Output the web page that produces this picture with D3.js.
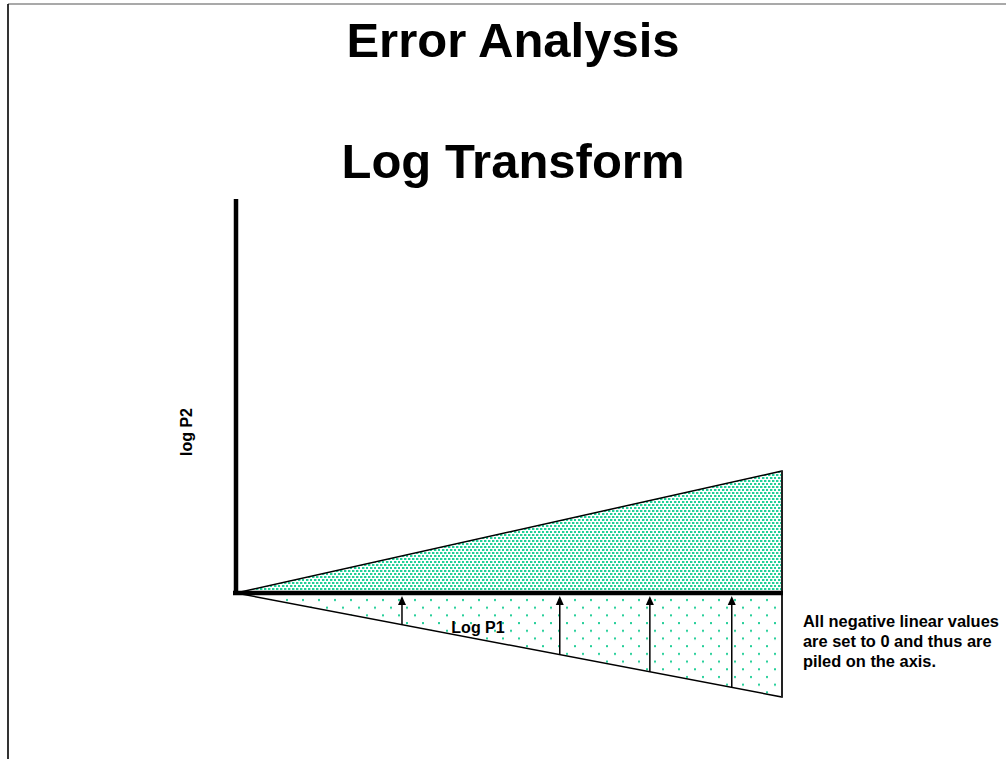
<!DOCTYPE html>
<html>
<head>
<meta charset="utf-8">
<script src="https://cdn.jsdelivr.net/npm/d3@7"></script>
<style>
  body { margin: 0; background: #fff; }
  svg { display: block; font-family: "Liberation Sans", Arial, sans-serif; }
</style>
</head>
<body>
<div id="chart"></div>
<script>
const width = 1006;
const height = 759;

// Chart content (data units: log P1 along x, log P2 along y)
const titleLines = ['Error Analysis', 'Log Transform'];
const xDomain = [0, 10];
const yAxisTop = 7.2;
const upperEdge = [[0, 0], [10, 2.23], [10, 0]];
const lowerEdge = [[0, 0], [10, -1.9], [10, 0]];
const arrowX = [3.04, 5.93, 7.58, 9.08];
const noteLines = ['All negative linear values', 'are set to 0 and thus are', 'piled on the axis.'];

const x = d3.scaleLinear().domain(xDomain).range([236, 782]);
const y = d3.scaleLinear().domain([0, yAxisTop]).range([593, 199]);

const svg = d3.select('#chart')
  .append('svg')
  .attr('width', width)
  .attr('height', height);

// Dot patterns
const defs = svg.append('defs');
const dense = defs.append('pattern')
  .attr('id', 'dense')
  .attr('patternUnits', 'userSpaceOnUse')
  .attr('width', 8).attr('height', 6);
[[0, 0], [4, 0], [2, 3], [6, 3]].forEach(p => {
  dense.append('rect').attr('x', p[0]).attr('y', p[1]).attr('width', 2.4).attr('height', 2).attr('fill', '#22cf98');
});
const sparse = defs.append('pattern')
  .attr('id', 'sparse')
  .attr('patternUnits', 'userSpaceOnUse')
  .attr('width', 16).attr('height', 15.4)
  .attr('x', 236).attr('y', 597);
[[2, 2], [10, 9.7]].forEach(p => {
  sparse.append('rect').attr('x', p[0]).attr('y', p[1]).attr('width', 2).attr('height', 2).attr('fill', '#22cf98');
});

// Frame
svg.append('line').attr('x1', 8).attr('x2', width).attr('y1', 4).attr('y2', 4)
  .attr('stroke', '#555').attr('stroke-width', 1.2);
svg.append('line').attr('x1', 8).attr('x2', 8).attr('y1', 4).attr('y2', height)
  .attr('stroke', '#000').attr('stroke-width', 1.6);

// Titles
svg.selectAll('.title')
  .data(titleLines)
  .enter()
  .append('text')
  .attr('class', 'title')
  .attr('x', 513)
  .attr('y', (d, i) => 57 + i * 121)
  .attr('text-anchor', 'middle')
  .style('font-size', '49px')
  .style('font-weight', 'bold')
  .text(d => d);

const line = d3.line().x(d => x(d[0])).y(d => y(d[1]));

// Lower (sparse) wedge
svg.append('path')
  .attr('d', line(lowerEdge) + 'Z')
  .attr('fill', 'url(#sparse)')
  .attr('stroke', '#000')
  .attr('stroke-width', 1.5);

// Upper (dense) wedge
svg.append('path')
  .attr('d', line(upperEdge) + 'Z')
  .attr('fill', 'url(#dense)')
  .attr('stroke', '#000')
  .attr('stroke-width', 1.5);

// Right edge
svg.append('line')
  .attr('x1', x(10)).attr('x2', x(10))
  .attr('y1', y(2.23)).attr('y2', y(-1.9))
  .attr('stroke', '#222').attr('stroke-width', 2);

// Arrows from the lower edge up to the axis
const lowerY = xv => lowerEdge[0][1] + (lowerEdge[1][1] - lowerEdge[0][1]) * (xv - lowerEdge[0][0]) / (lowerEdge[1][0] - lowerEdge[0][0]);
const arrows = svg.selectAll('.arrow').data(arrowX).enter().append('g').attr('class', 'arrow');
arrows.append('line')
  .attr('x1', d => x(d)).attr('x2', d => x(d))
  .attr('y1', d => y(lowerY(d))).attr('y2', y(0) + 10)
  .attr('stroke', '#000').attr('stroke-width', 1.5);
arrows.append('path')
  .attr('d', d => `M${x(d)},${y(0) + 3}L${x(d) - 4},${y(0) + 12}L${x(d) + 4},${y(0) + 12}Z`)
  .attr('fill', '#000');

// Axes
svg.append('line')
  .attr('x1', x(0) - 3).attr('x2', x(10) + 1)
  .attr('y1', y(0)).attr('y2', y(0))
  .attr('stroke', '#000').attr('stroke-width', 4.5);
svg.append('line')
  .attr('x1', x(0)).attr('x2', x(0))
  .attr('y1', y(yAxisTop)).attr('y2', y(0) + 2)
  .attr('stroke', '#000').attr('stroke-width', 4.5);

// Axis labels
svg.append('text')
  .attr('x', 478).attr('y', 633)
  .attr('text-anchor', 'middle')
  .style('font-size', '16px').style('font-weight', 'bold')
  .text('Log P1');
svg.append('text')
  .attr('transform', 'translate(192,432) rotate(-90)')
  .attr('text-anchor', 'middle')
  .style('font-size', '16px').style('font-weight', 'bold')
  .text('log P2');

// Note
svg.selectAll('.note')
  .data(noteLines)
  .enter()
  .append('text')
  .attr('class', 'note')
  .attr('x', 803)
  .attr('y', (d, i) => 627 + i * 20)
  .style('font-size', '16.4px').style('font-weight', 'bold')
  .text(d => d);
</script>
</body>
</html>
